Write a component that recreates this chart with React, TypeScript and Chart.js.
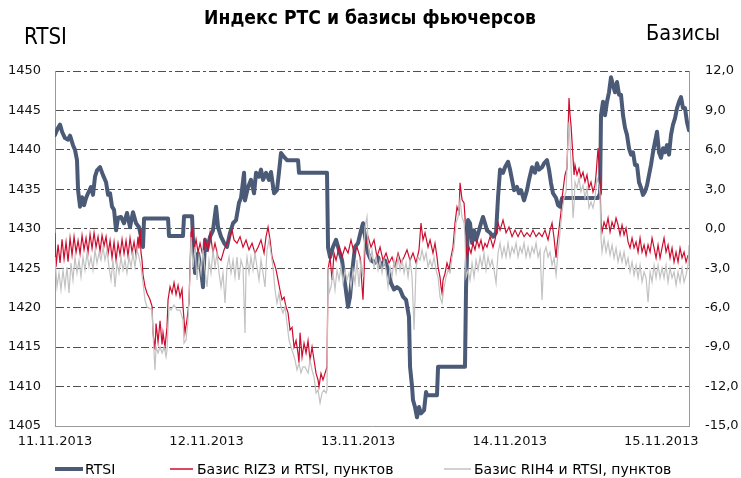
import React, { useEffect, useRef } from "react";
import { Chart, registerables } from "chart.js";

Chart.register(...registerables);

const TITLE = "Индекс РТС и базисы фьючерсов";
const LEFT_AXIS_TITLE = "RTSI";
const RIGHT_AXIS_TITLE = "Базисы";
const SERIES_NAMES = ["RTSI", "Базис RIZ3 и RTSI, пунктов", "Базис RIH4 и RTSI, пунктов"];
const DAY_LABELS = ["11.11.2013", "12.11.2013", "13.11.2013", "14.11.2013", "15.11.2013"];
const LEFT_TICKS = [1405, 1410, 1415, 1420, 1425, 1430, 1435, 1440, 1445, 1450];
const RIGHT_TICKS = [-15, -12, -9, -6, -3, 0, 3, 6, 9, 12];
const MINUTES_PER_DAY = 1440;
const X_END_MINUTES = 6023;

// RTSI index: time in minutes from 11.11.2013 00:00, and index value
const RTSI_MIN = [
  0, 29, 48, 67, 95, 124, 143, 171, 190, 209,
  219, 238, 257, 276, 295, 314, 342, 361, 380, 399,
  428, 456, 485, 504, 523, 542, 561, 580, 599, 627,
  656, 684, 713, 741, 770, 798, 817, 836, 846, 1074,
  1083, 1216, 1226, 1302, 1311, 1330, 1359, 1387, 1406, 1425,
  1444, 1473, 1501, 1530, 1549, 1577, 1606, 1634, 1663, 1691,
  1720, 1748, 1767, 1796, 1805, 1834, 1862, 1891, 1910, 1938,
  1957, 1976, 2005, 2033, 2052, 2081, 2109, 2128, 2147, 2176,
  2204, 2309, 2318, 2584, 2594, 2613, 2641, 2670, 2698, 2727,
  2755, 2784, 2803, 2822, 2850, 2879, 2907, 2926, 2955, 2974,
  3002, 3040, 3069, 3097, 3135, 3164, 3192, 3221, 3249, 3278,
  3306, 3335, 3363, 3373, 3392, 3401, 3420, 3439, 3458, 3477,
  3506, 3525, 3534, 3629, 3639, 3895, 3905, 3924, 3943, 3962,
  3981, 4000, 4028, 4047, 4066, 4085, 4104, 4133, 4161, 4190,
  4209, 4228, 4256, 4275, 4304, 4323, 4342, 4361, 4389, 4408,
  4427, 4456, 4484, 4503, 4532, 4560, 4579, 4598, 4627, 4646,
  4674, 4693, 4712, 4731, 4760, 4779, 4798, 4817, 5159, 5178,
  5187, 5206, 5225, 5244, 5263, 5282, 5301, 5320, 5339, 5358,
  5377, 5396, 5415, 5434, 5453, 5472, 5491, 5510, 5529, 5548,
  5567, 5586, 5605, 5624, 5643, 5662, 5681, 5700, 5719, 5738,
  5757, 5776, 5795, 5814, 5833, 5852, 5871, 5890, 5909, 5928,
  5947, 5966, 5985, 6004, 6023,
];
const RTSI = [
  1441.9, 1442.8, 1443.2, 1442.3, 1441.5, 1441.3, 1441.8, 1440.6, 1440.0, 1438.7,
  1434.9, 1432.8, 1434.0, 1433.0, 1433.9, 1434.5, 1435.3, 1434.3, 1436.6, 1437.4,
  1437.8, 1436.8, 1435.9, 1434.3, 1434.5, 1432.8, 1432.4, 1429.8, 1431.4, 1431.5,
  1430.7, 1432.0, 1430.2, 1432.1, 1430.7, 1430.2, 1429.0, 1427.7, 1431.3, 1431.3,
  1429.1, 1429.1, 1431.6, 1431.6, 1428.6, 1424.4, 1426.9, 1424.8, 1422.6, 1428.6,
  1427.3, 1429.0, 1429.8, 1432.8, 1430.2, 1429.0, 1428.2, 1427.7, 1429.5, 1430.7,
  1431.1, 1433.3, 1433.9, 1437.1, 1433.6, 1435.3, 1436.2, 1434.5, 1437.1, 1436.6,
  1437.5, 1436.2, 1437.1, 1436.2, 1437.2, 1434.5, 1434.9, 1437.2, 1439.6, 1439.1,
  1438.7, 1438.7, 1437.1, 1437.1, 1427.6, 1426.4, 1427.7, 1428.6, 1427.3, 1426.0,
  1423.1, 1420.1, 1421.4, 1424.4, 1427.7, 1428.2, 1429.8, 1430.7, 1428.2, 1426.9,
  1426.0, 1425.7, 1426.4, 1425.2, 1426.0, 1424.8, 1423.1, 1422.3, 1422.6, 1422.3,
  1421.4, 1421.0, 1418.8, 1412.5, 1410.0, 1408.3, 1407.4, 1406.1, 1407.4, 1406.6,
  1407.0, 1409.3, 1408.9, 1408.9, 1412.5, 1412.5, 1422.6, 1431.1, 1430.7, 1428.2,
  1429.8, 1428.6, 1429.8, 1430.7, 1431.5, 1430.7, 1429.8, 1429.5, 1429.0, 1429.5,
  1434.0, 1437.5, 1437.1, 1437.8, 1438.5, 1437.5, 1436.2, 1434.9, 1435.3, 1434.5,
  1434.9, 1433.6, 1434.9, 1436.2, 1437.8, 1437.1, 1438.3, 1437.5, 1437.8, 1438.3,
  1438.7, 1437.5, 1435.8, 1434.5, 1433.9, 1433.0, 1432.8, 1433.9, 1433.9, 1434.5,
  1444.4, 1446.1, 1444.4, 1446.1, 1447.3, 1449.2, 1448.2, 1447.3, 1448.6, 1447.0,
  1447.0, 1444.4, 1442.8, 1441.9, 1440.2, 1439.4, 1439.7, 1438.1, 1438.1, 1435.9,
  1435.2, 1434.3, 1434.7, 1435.5, 1436.8, 1438.1, 1439.7, 1441.0, 1442.3, 1439.7,
  1439.0, 1440.2, 1439.7, 1440.6, 1439.4, 1441.9, 1443.2, 1444.0, 1445.3, 1446.1,
  1446.7, 1445.3, 1445.3, 1443.5, 1442.5,
];

// Basis RIZ3 - RTSI: [minute, points]
const RIZ3_BASIS: [number, number][] = [
  [0, -0.3], [10, -2.9], [29, -1.2], [48, -2.6], [67, -0.8], [86, -2.3], [105, -1.0], [124, -2.5], [143, -0.7], [162, -2.0],
  [181, -0.6], [200, -1.8], [219, -0.9], [238, -1.9], [257, -0.5], [276, -1.6], [295, -0.7], [314, -1.8], [333, -0.4], [352, -1.5],
  [371, -0.3], [390, -1.4], [409, -0.6], [428, -1.7], [447, -0.5], [466, -1.3], [485, -0.6], [504, -1.9], [523, -0.9], [542, -2.2],
  [561, -1.0], [580, -2.4], [599, -1.1], [618, -2.0], [637, -0.8], [656, -1.9], [675, -0.9], [694, -2.1], [713, -0.7], [732, -1.8],
  [751, -1.0], [770, -2.0], [789, -0.6], [798, -1.5], [808, 0.0], [817, -1.8], [827, -2.4], [836, -3.5], [855, -4.4], [874, -4.9],
  [893, -5.2], [903, -5.4], [922, -5.9], [931, -7.9], [950, -9.2], [960, -7.2], [979, -8.6], [998, -7.0], [1017, -8.8], [1026, -7.9],
  [1045, -9.0], [1064, -7.5], [1074, -5.4], [1093, -4.4], [1112, -4.9], [1131, -4.1], [1150, -5.0], [1169, -4.3], [1188, -5.2], [1207, -4.6],
  [1216, -5.9], [1235, -7.9], [1254, -6.9], [1273, -5.6], [1292, -0.3], [1302, 0.0], [1321, -1.6], [1340, -0.8], [1359, -1.8], [1378, -1.1],
  [1406, -2.1], [1425, -0.85], [1454, -1.6], [1473, -0.3], [1501, -1.8], [1520, -1.1], [1549, -2.15], [1577, -2.4], [1606, -1.6], [1634, -1.1],
  [1663, -0.6], [1682, -0.1], [1701, -0.85], [1729, -1.1], [1758, -0.6], [1786, -1.4], [1815, -0.85], [1843, -1.6], [1872, -1.1], [1900, -1.85],
  [1929, -1.4], [1957, -0.85], [1986, -1.85], [2005, -0.6], [2024, 0.13], [2043, -0.85], [2062, -2.15], [2081, -2.6], [2100, -3.1], [2119, -3.9],
  [2138, -4.7], [2157, -5.4], [2176, -5.2], [2195, -5.95], [2214, -6.4], [2233, -7.7], [2252, -7.5], [2271, -9.0], [2290, -8.5], [2309, -9.5],
  [2318, -10.2], [2328, -7.9], [2347, -9.75], [2366, -8.7], [2385, -9.45], [2404, -8.5], [2423, -10.0], [2442, -9.0], [2461, -10.0], [2480, -11.0],
  [2499, -11.5], [2508, -12.0], [2527, -11.0], [2546, -11.5], [2565, -11.0], [2584, -10.5], [2594, -3.1], [2613, -2.15], [2632, -3.9], [2651, -1.85],
  [2670, -2.4], [2698, -1.4], [2727, -2.15], [2755, -1.4], [2784, -1.85], [2812, -0.85], [2841, -1.85], [2869, -1.4], [2898, -2.15], [2917, -4.4],
  [2926, -5.4], [2945, -1.4], [2974, -0.6], [3002, -1.4], [3031, -0.85], [3059, -2.15], [3088, -1.4], [3116, -2.4], [3145, -1.85], [3173, -2.6],
  [3202, -2.15], [3230, -2.9], [3259, -1.85], [3287, -2.6], [3316, -2.15], [3344, -1.6], [3373, -2.4], [3401, -1.85], [3430, -2.6], [3458, -1.6],
  [3477, 0.44], [3496, -0.85], [3515, -0.3], [3544, -1.4], [3563, -0.85], [3591, -1.85], [3610, -1.1], [3629, -2.15], [3639, -2.9], [3658, -3.7],
  [3667, -4.4], [3677, -4.9], [3686, -3.9], [3705, -3.4], [3724, -2.6], [3743, -3.1], [3762, -2.15], [3781, -1.4], [3800, 0.44], [3819, 1.66],
  [3838, 1.2], [3848, 3.5], [3867, 2.2], [3886, 1.96], [3895, 0.9], [3905, -1.4], [3914, -2.15], [3933, -1.4], [3952, -1.85], [3971, -1.1],
  [3990, -1.6], [4009, -0.85], [4028, -1.4], [4047, -0.85], [4066, -1.6], [4085, -1.1], [4104, -1.4], [4133, -0.6], [4161, -1.4], [4180, -0.85],
  [4209, 0.44], [4228, -0.1], [4256, 0.67], [4285, -0.3], [4313, 0.13], [4342, -0.6], [4370, -0.1], [4399, -0.6], [4427, -0.1], [4456, -0.6],
  [4484, -0.3], [4513, -0.6], [4541, -0.1], [4570, -0.6], [4598, -0.3], [4627, -0.6], [4655, -0.1], [4684, -0.85], [4703, -0.1], [4722, 0.44],
  [4741, -0.7], [4760, -2.2], [4770, -1.2], [4788, 0.0], [4807, 1.28], [4817, 2.34], [4836, 3.56], [4845, 4.1], [4864, 4.6], [4874, 7.4],
  [4883, 9.95], [4893, 8.65], [4902, 7.9], [4912, 6.6], [4921, 5.4], [4931, 4.1], [4940, 4.85], [4959, 4.1], [4978, 4.6], [4997, 3.9],
  [5016, 4.3], [5035, 3.56], [5054, 4.1], [5073, 3.1], [5092, 3.56], [5111, 2.8], [5130, 3.33], [5140, 4.1], [5149, 5.1], [5159, 6.14],
  [5168, 4.85], [5178, 3.56], [5187, 0.51], [5197, -0.25], [5216, 0.51], [5235, 0.06], [5254, 0.82], [5273, -0.25], [5292, 0.51], [5311, 0.06],
  [5330, 0.82], [5349, 0.29], [5368, -0.47], [5387, 0.29], [5406, -0.47], [5425, 0.06], [5444, -1.0], [5463, -1.46], [5482, -0.7], [5501, -1.46],
  [5520, -1.0], [5539, -1.77], [5558, -0.7], [5577, -1.77], [5596, -1.23], [5615, -2.0], [5634, -1.23], [5653, -1.77], [5672, -0.7], [5691, -1.46],
  [5710, -2.22], [5729, -1.23], [5748, -2.22], [5767, -1.46], [5786, -0.7], [5805, -1.77], [5824, -1.23], [5843, -2.22], [5862, -1.46], [5881, -2.53],
  [5900, -1.77], [5919, -2.53], [5938, -1.46], [5957, -2.22], [5976, -1.77], [5995, -2.53], [6014, -2.0],
];

// Basis RIH4 - RTSI: [minute, points]
const RIH4_BASIS: [number, number][] = [
  [0, -2.15], [19, -4.43], [38, -3.36], [57, -4.66], [76, -3.14], [95, -4.43], [114, -2.91], [133, -4.89], [152, -2.6], [171, -3.9],
  [190, -2.15], [209, -3.36], [228, -2.38], [247, -3.67], [266, -2.15], [285, -3.14], [304, -1.84], [323, -2.91], [342, -2.15], [361, -3.14],
  [380, -1.62], [399, -2.6], [418, -1.84], [437, -2.38], [456, -1.39], [475, -2.38], [494, -1.62], [513, -2.91], [532, -3.9], [551, -2.38],
  [570, -4.43], [589, -2.6], [608, -3.36], [627, -2.15], [646, -3.14], [665, -2.38], [684, -3.36], [703, -2.15], [722, -2.91], [741, -1.84],
  [760, -2.91], [779, -1.62], [798, -2.15], [817, -2.91], [836, -4.12], [855, -5.42], [874, -5.95], [893, -6.03], [922, -6.18], [931, -7.93],
  [941, -9.45], [950, -10.74], [960, -8.99], [979, -9.45], [998, -8.99], [1017, -9.45], [1036, -8.99], [1055, -9.75], [1064, -9.22], [1074, -7.47],
  [1083, -5.95], [1102, -6.18], [1131, -5.8], [1159, -6.18], [1188, -6.18], [1216, -6.94], [1226, -8.69], [1245, -8.46], [1264, -6.94], [1283, -3.36],
  [1292, -0.63], [1311, -2.91], [1330, -1.39], [1349, -3.9], [1368, -2.15], [1387, -3.36], [1406, -1.62], [1425, -3.14], [1444, -4.43], [1463, -2.38],
  [1482, -3.36], [1501, -1.62], [1520, -2.91], [1539, -1.84], [1558, -3.36], [1577, -4.43], [1596, -3.36], [1615, -5.65], [1634, -2.91], [1653, -2.15],
  [1672, -3.36], [1691, -2.38], [1710, -3.67], [1729, -2.15], [1748, -3.9], [1767, -2.38], [1786, -2.91], [1805, -7.93], [1815, -2.91], [1824, -2.15],
  [1843, -3.36], [1862, -2.15], [1881, -3.14], [1900, -1.84], [1919, -2.91], [1938, -3.9], [1957, -2.38], [1976, -3.36], [1995, -4.43], [2014, -1.62],
  [2033, -0.85], [2052, -1.84], [2071, -2.91], [2090, -4.66], [2109, -5.65], [2128, -4.89], [2147, -5.95], [2166, -6.41], [2185, -5.95], [2204, -7.17],
  [2223, -8.46], [2242, -8.99], [2261, -9.45], [2280, -9.98], [2299, -10.74], [2318, -10.21], [2337, -10.97], [2356, -10.51], [2375, -10.51], [2404, -10.97],
  [2423, -9.98], [2442, -10.74], [2461, -11.28], [2480, -12.49], [2499, -12.26], [2518, -13.25], [2537, -12.49], [2556, -12.26], [2575, -12.49], [2584, -12.26],
  [2594, -2.91], [2603, -4.89], [2622, -4.43], [2641, -3.36], [2660, -4.66], [2679, -3.14], [2698, -3.9], [2717, -2.91], [2736, -4.12], [2755, -3.14],
  [2774, -3.9], [2793, -3.36], [2812, -4.43], [2831, -3.14], [2850, -4.12], [2869, -2.38], [2888, -4.43], [2907, -2.38], [2926, -3.67], [2945, 0.13],
  [2964, 0.89], [2974, -1.08], [2993, -2.38], [3012, -1.62], [3031, -2.91], [3050, -2.15], [3069, -3.14], [3088, -2.38], [3107, -3.36], [3126, -2.38],
  [3145, -3.14], [3164, -4.43], [3183, -2.91], [3202, -3.67], [3221, -2.38], [3240, -3.36], [3259, -2.15], [3278, -3.14], [3297, -2.38], [3316, -3.36],
  [3335, -2.6], [3354, -3.67], [3373, -2.38], [3392, -3.67], [3411, -7.7], [3430, -2.91], [3449, -2.15], [3468, -2.38], [3487, -1.62], [3506, -2.38],
  [3525, -1.84], [3544, -2.91], [3563, -2.38], [3582, -2.91], [3601, -2.15], [3620, -3.14], [3639, -3.67], [3658, -5.19], [3677, -5.65], [3696, -4.43],
  [3715, -3.67], [3734, -3.14], [3753, -3.36], [3772, -2.15], [3791, -1.39], [3810, 0.44], [3829, 0.89], [3848, 2.19], [3867, 0.89], [3886, 0.44],
  [3895, -0.63], [3905, -3.67], [3924, -3.14], [3943, -3.9], [3962, -2.6], [3981, -3.67], [4000, -2.38], [4019, -3.14], [4038, -2.15], [4057, -2.91],
  [4076, -1.84], [4095, -3.14], [4114, -2.15], [4133, -2.91], [4152, -2.38], [4171, -3.14], [4190, -4.12], [4209, -1.84], [4228, -1.08], [4247, -2.15],
  [4266, -1.39], [4285, -2.15], [4304, -1.08], [4323, -2.15], [4342, -1.39], [4361, -1.84], [4380, -1.08], [4399, -2.15], [4418, -1.39], [4437, -1.84],
  [4456, -1.08], [4475, -2.15], [4494, -1.39], [4513, -2.15], [4532, -1.39], [4551, -1.84], [4570, -1.08], [4589, -2.15], [4608, -1.62], [4627, -5.42],
  [4646, -1.84], [4665, -1.39], [4684, -2.15], [4703, -1.77], [4722, -2.76], [4741, -2.22], [4760, -3.52], [4779, -1.77], [4798, -0.25], [4817, 1.28],
  [4836, 2.34], [4855, 2.8], [4874, 6.9], [4883, 8.12], [4893, 6.6], [4902, 4.85], [4912, 2.8], [4921, 0.82], [4931, 1.81], [4940, 3.56],
  [4959, 3.1], [4978, 3.86], [4997, 2.8], [5016, 3.33], [5035, 2.34], [5054, 3.1], [5073, 1.58], [5092, 2.04], [5111, 1.58], [5130, 2.34],
  [5149, 3.86], [5168, 3.33], [5178, 2.57], [5187, -0.7], [5197, -1.77], [5216, -0.7], [5235, -1.77], [5254, -1.01], [5273, -2.0], [5292, -1.23],
  [5311, -2.22], [5330, -1.46], [5349, -2.53], [5368, -1.77], [5387, -2.53], [5406, -1.77], [5425, -2.76], [5444, -2.22], [5463, -3.29], [5482, -2.53],
  [5501, -3.52], [5520, -2.76], [5539, -3.74], [5558, -2.76], [5577, -4.05], [5596, -3.29], [5615, -3.74], [5634, -5.57], [5653, -3.29], [5672, -4.05],
  [5691, -2.76], [5710, -3.74], [5729, -2.76], [5748, -3.74], [5767, -2.98], [5786, -3.74], [5805, -2.76], [5824, -4.05], [5843, -2.98], [5862, -3.74],
  [5881, -3.29], [5900, -4.28], [5919, -3.29], [5938, -4.05], [5957, -2.98], [5976, -4.05], [5995, -3.52], [6014, -2.76], [6023, -1.23],
];

const COLORS = { rtsi: "#4b5a77", riz3: "#cc0d2f", rih4: "#c2c2c2" };
const SANS = '"DejaVu Sans", Verdana, sans-serif';
const NARROW = '"DejaVu Sans Condensed", "DejaVu Sans", sans-serif';

function fitFont(ctx: CanvasRenderingContext2D, text: string, weight: string, family: string, target: number) {
  ctx.font = `${weight} 20px ${family}`;
  const w = ctx.measureText(text).width;
  const size = w > 0 ? (20 * target) / w : 18;
  ctx.font = `${weight} ${size.toFixed(2)}px ${family}`;
}

const overlayPlugin = {
  id: "overlayTexts",
  afterDraw(chart: any) {
    const ctx: CanvasRenderingContext2D = chart.ctx;
    ctx.save();
    ctx.fillStyle = "#000";
    ctx.textBaseline = "middle";

    fitFont(ctx, TITLE, "bold", NARROW, 332);
    ctx.textAlign = "center";
    ctx.fillText(TITLE, 370, 19);

    fitFont(ctx, LEFT_AXIS_TITLE, "normal", NARROW, 43);
    ctx.textAlign = "left";
    ctx.fillText(LEFT_AXIS_TITLE, 24, 38);

    fitFont(ctx, RIGHT_AXIS_TITLE, "normal", NARROW, 74);
    ctx.textAlign = "left";
    ctx.fillText(RIGHT_AXIS_TITLE, 646, 34);

    const legendY = 469;
    const items = [
      { name: SERIES_NAMES[0], color: COLORS.rtsi, width: 4, x0: 55, x1: 83, tx: 85 },
      { name: SERIES_NAMES[1], color: COLORS.riz3, width: 1.5, x0: 170, x1: 193, tx: 197 },
      { name: SERIES_NAMES[2], color: COLORS.rih4, width: 1.5, x0: 444, x1: 471, tx: 474 },
    ];
    ctx.font = `14px ${SANS}`;
    ctx.textAlign = "left";
    for (const it of items) {
      ctx.beginPath();
      ctx.strokeStyle = it.color;
      ctx.lineWidth = it.width;
      ctx.moveTo(it.x0, legendY);
      ctx.lineTo(it.x1, legendY);
      ctx.stroke();
      ctx.fillStyle = "#000";
      ctx.fillText(it.name, it.tx, legendY + 1);
    }
    ctx.restore();
  },
};

export default function App() {
  const canvasRef = useRef<HTMLCanvasElement | null>(null);

  useEffect(() => {
    document.body.style.margin = "0";
    const canvas = canvasRef.current;
    if (!canvas) return;

    const rtsiPts = RTSI_MIN.map((m, i) => ({ x: m, y: RTSI[i] }));
    const riz3Pts = RIZ3_BASIS.map(([m, v]) => ({ x: m, y: v }));
    const rih4Pts = RIH4_BASIS.map(([m, v]) => ({ x: m, y: v }));

    const tickFont = { family: SANS, size: 13 };

    const chart = new Chart(canvas, {
      type: "line",
      data: {
        datasets: [
          {
            label: SERIES_NAMES[0],
            data: rtsiPts,
            yAxisID: "y",
            borderColor: COLORS.rtsi,
            borderWidth: 4,
            borderJoinStyle: "round",
            borderCapStyle: "round",
            order: 2,
          },
          {
            label: SERIES_NAMES[1],
            data: riz3Pts,
            yAxisID: "y1",
            borderColor: COLORS.riz3,
            borderWidth: 1.2,
            order: 1,
          },
          {
            label: SERIES_NAMES[2],
            data: rih4Pts,
            yAxisID: "y1",
            borderColor: COLORS.rih4,
            borderWidth: 1.2,
            order: 0,
          },
        ],
      } as any,
      options: {
        responsive: false,
        animation: false,
        events: [],
        parsing: false,
        normalized: true,
        elements: { point: { radius: 0 }, line: { tension: 0, fill: false } },
        layout: { padding: { top: 71, left: 0, right: 0, bottom: 0 } },
        plugins: {
          legend: { display: false },
          title: { display: false },
          tooltip: { enabled: false },
        },
        scales: {
          x: {
            type: "linear",
            min: 0,
            max: X_END_MINUTES,
            afterBuildTicks: (s: any) => {
              s.ticks = DAY_LABELS.map((_, i) => ({ value: i * MINUTES_PER_DAY }));
            },
            afterFit: (s: any) => {
              s.height = 52;
            },
            grid: { display: false, drawTicks: false },
            border: { display: true, color: "#9a9a9a", width: 1 },
            ticks: {
              autoSkip: false,
              maxRotation: 0,
              padding: 8,
              font: tickFont,
              color: "#111",
              callback: (v: any) => DAY_LABELS[Math.round(Number(v) / MINUTES_PER_DAY)] ?? "",
            },
          },
          y: {
            type: "linear",
            position: "left",
            min: 1405,
            max: 1450,
            afterBuildTicks: (s: any) => {
              s.ticks = LEFT_TICKS.map((v) => ({ value: v }));
            },
            afterFit: (s: any) => {
              s.width = 55;
            },
            grid: { display: true, color: "#505050", lineWidth: 1, drawTicks: false },
            border: { display: true, color: "#9a9a9a", width: 1, dash: [8, 3, 3, 3] },
            ticks: { padding: 14, font: tickFont, color: "#111", callback: (v: any) => String(v) },
          },
          y1: {
            type: "linear",
            position: "right",
            min: -15,
            max: 12,
            afterBuildTicks: (s: any) => {
              s.ticks = RIGHT_TICKS.map((v) => ({ value: v }));
            },
            afterFit: (s: any) => {
              s.width = 52;
            },
            grid: { display: false, drawTicks: false },
            border: { display: true, color: "#9a9a9a", width: 1 },
            ticks: {
              padding: 16,
              font: tickFont,
              color: "#111",
              callback: (v: any) => Number(v).toFixed(1).replace(".", ","),
            },
          },
        },
      } as any,
      plugins: [overlayPlugin],
    });

    return () => chart.destroy();
  }, []);

  return (
    <div style={{ position: "fixed", left: 0, top: 0, width: 741, height: 478, background: "#fff" }}>
      <canvas ref={canvasRef} width={741} height={478} style={{ display: "block", width: 741, height: 478 }} />
    </div>
  );
}
